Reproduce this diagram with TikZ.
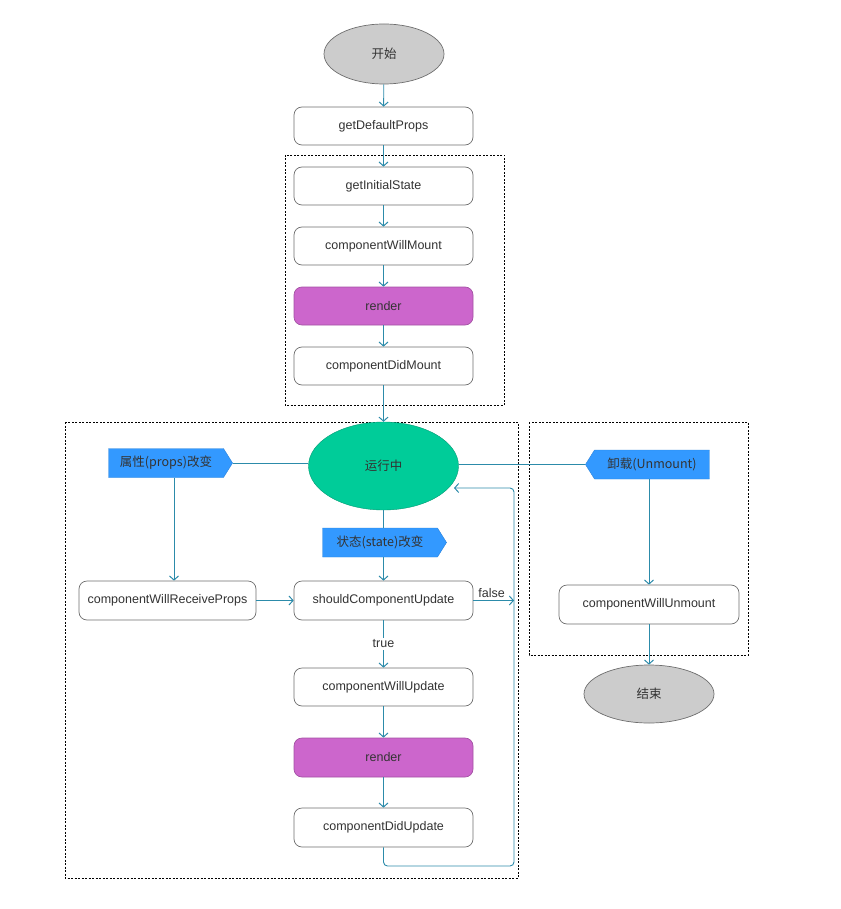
\documentclass[tikz,border=0pt]{standalone}
\usepackage{fontspec}
\setmainfont{Liberation Sans}
\newfontfamily\cjk{Noto Sans CJK SC}
\usetikzlibrary{shapes.geometric,shapes.symbols,arrows.meta}
\definecolor{lnc}{RGB}{44,139,170}
\definecolor{bxb}{RGB}{110,110,110}
\definecolor{grayf}{RGB}{204,204,204}
\definecolor{runf}{RGB}{0,204,153}
\definecolor{rendf}{RGB}{204,102,204}
\definecolor{sigf}{RGB}{51,153,255}
\definecolor{txt}{RGB}{51,51,51}
\tikzset{
  every node/.style={font=\fontsize{12.5}{14}\selectfont, text=txt},
  box/.style={draw=bxb, line width=0.7pt, rounded corners=8pt, fill=white, minimum width=179pt, minimum height=38pt, inner sep=0pt},
  rbox/.style={box, fill=rendf, draw=rendf!80!black},
  oval/.style={ellipse, draw=bxb, line width=0.7pt, fill=grayf, inner sep=0pt},
  sig/.style={signal, draw=sigf!85!black, fill=sigf, minimum height=29pt, inner sep=0pt, signal pointer angle=116},
  grp/.style={draw=black, dashed, dash pattern=on 2pt off 1.5pt, line width=0.6pt},
  ln/.style={draw=lnc, line width=0.9pt},
  arr/.style={ln, -{Straight Barb[length=4pt,width=9pt,line width=1pt]}},
}
\begin{document}
\begin{tikzpicture}[x=1pt,y=-1pt]
\useasboundingbox (0,0) rectangle (840,909);
% groups
\draw[grp] (285,155) rectangle (504,405);
\draw[grp] (65,422) rectangle (518,878);
\draw[grp] (529,422) rectangle (748,655);
% nodes
\node[oval, minimum width=120pt, minimum height=60pt] (start) at (384,54) {\cjk 开始};
\node[box] (gdp) at (383.5,126) {getDefaultProps};
\node[box] (gis) at (383.5,186) {getInitialState};
\node[box] (cwm) at (383.5,246) {componentWillMount};
\node[rbox] (r1) at (383.5,306) {render};
\node[box] (cdm) at (383.5,366) {componentDidMount};
\node[ellipse, draw=runf!75!black, fill=runf, minimum width=150pt, minimum height=88pt, inner sep=0pt] (run) at (383.5,466) {\cjk 运行中};
\node[sig, signal to=east, minimum width=124pt] (props) at (166,463) {\cjk 属性(props)改变};
\node[sig, signal to=east, minimum width=124pt] (state) at (380,542.5) {\cjk 状态(state)改变};
\node[sig, signal to=west, minimum width=124pt] (unm) at (652,464.5) {\cjk 卸载(Unmount)};
\node[box, minimum width=177pt, minimum height=39pt] (cwrp) at (167.5,600.5) {componentWillReceiveProps};
\node[box, minimum height=39pt] (scu) at (383.5,600.5) {shouldComponentUpdate};
\node[box] (cwu) at (383.5,687) {componentWillUpdate};
\node[rbox, minimum height=39pt] (r2) at (383.5,757.5) {render};
\node[box, minimum height=39pt] (cdu) at (383.5,827.5) {componentDidUpdate};
\node[box, minimum width=180pt, minimum height=39pt] (cwun) at (649,604.5) {componentWillUnmount};
\node[oval, minimum width=130pt, minimum height=58pt] (end) at (649,694) {\cjk 结束};
\coordinate (fe) at (514,600.5);
\coordinate (loopbr) at (514,866);
\coordinate (loopend) at (454,488);
% connectors
\draw[arr] (start) -- (gdp);
\draw[arr] (gdp) -- (gis);
\draw[arr] (gis) -- (cwm);
\draw[arr] (cwm) -- (r1);
\draw[arr] (r1) -- (cdm);
\draw[arr] (cdm) -- (run);
\draw[ln] (props.east) -- (run.west |- props.east);
\draw[ln] (run.east |- unm.west) -- (unm.west);
\draw[arr] (props.south -| 174,0) -- (cwrp.north -| 174,0);
\draw[ln] (run.south) -- (run.south |- state.north);
\draw[arr] (state.south -| scu.north) -- (scu.north);
\draw[arr] (cwrp) -- (scu);
\draw[arr] (scu.east) -- node[above=-1pt, pos=0.45]{false} (fe);
\draw[arr] (scu.south) -- node[fill=white, inner sep=2pt]{true} (cwu.north);
\draw[arr] (cwu) -- (r2);
\draw[arr] (r2) -- (cdu);
\draw[arr, rounded corners=4pt] (cdu.south) |- (loopbr) |- (loopend);
\draw[arr] (unm.south -| cwun.north) -- (cwun.north);
\draw[arr] (cwun) -- (end);
\end{tikzpicture}
\end{document}
